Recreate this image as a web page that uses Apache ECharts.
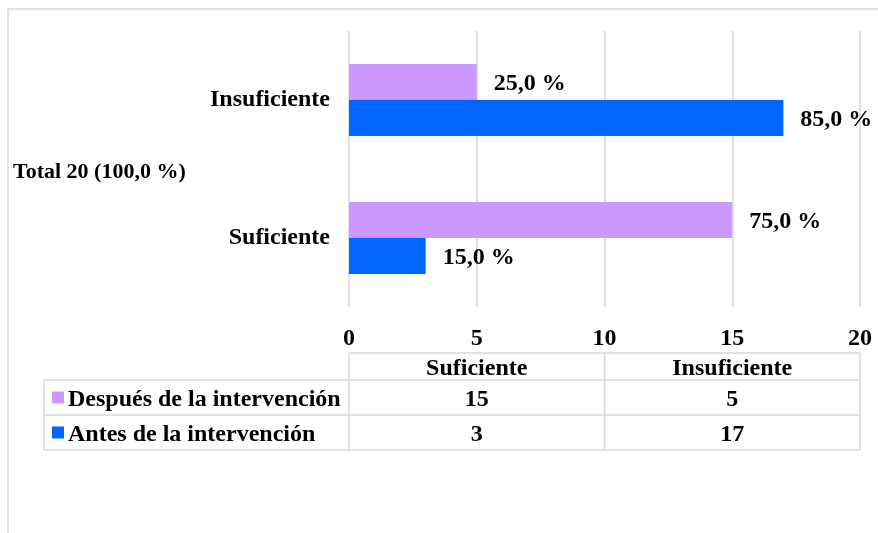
<!DOCTYPE html>
<html lang="es">
<head>
    <meta charset="UTF-8">
    <title>Intervención</title>
    <style>
        html, body { margin: 0; padding: 0; background: #fff; }
        #chart { width: 878px; height: 533px; }
    </style>
</head>
<body>
<div id="chart"></div>
<script src="https://cdn.jsdelivr.net/npm/echarts@6/dist/echarts.min.js"></script>
<script>
    // datos
    var categories = ['Suficiente', 'Insuficiente']
    var antes = [3, 17]
    var despues = [15, 5]
    var seriesNames = ['Después de la intervención', 'Antes de la intervención']
    var xTicks = [0, 5, 10, 15, 20]
    var total = 20
    var totalLabel = 'Total 20 (100,0 %)'

    var colors = { despues: '#CC99FF', antes: '#0066FF' }
    var font = 'Liberation Serif, Times New Roman, serif'
    var gridColor = '#d9d9d9'

    function pct(v) {
        return (v / total * 100).toFixed(1).replace('.', ',') + ' %'
    }

    var labelStyle = {
        show: true,
        position: 'right',
        distance: 17,
        offset: [0, 2],
        fontFamily: font,
        fontWeight: 'bold',
        fontSize: 24,
        color: '#000',
        formatter: function (p) { return pct(p.value) }
    }

    var chart = echarts.init(document.getElementById('chart'))
    chart.setOption({
        animation: false,
        grid: { left: 349, right: 18, top: 31, bottom: 226 },
        xAxis: {
            type: 'value',
            min: xTicks[0],
            max: xTicks[xTicks.length - 1],
            interval: xTicks[1] - xTicks[0],
            axisLine: { show: false },
            axisTick: { show: false },
            splitLine: { lineStyle: { color: gridColor, width: 1.5 } },
            axisLabel: { margin: 20, fontFamily: font, fontWeight: 'bold', fontSize: 24, color: '#000' }
        },
        yAxis: {
            type: 'category',
            data: categories,
            axisLine: { show: false },
            axisTick: { show: false },
            axisLabel: { margin: 19, padding: [5, 0, 0, 0], fontFamily: font, fontWeight: 'bold', fontSize: 24, color: '#000' }
        },
        series: [
            {
                name: seriesNames[0],
                type: 'bar',
                data: despues,
                barWidth: 36,
                barGap: '0%',
                itemStyle: { color: colors.despues },
                label: labelStyle
            },
            {
                name: seriesNames[1],
                type: 'bar',
                data: antes,
                barWidth: 36,
                barGap: '0%',
                itemStyle: { color: colors.antes },
                label: labelStyle
            }
        ]
    })

    // tabla de datos debajo del eje
    function drawTable() {
        var x0 = chart.convertToPixel({ xAxisIndex: 0 }, 0)
        var x1 = chart.convertToPixel({ xAxisIndex: 0 }, 10)
        var x2 = chart.convertToPixel({ xAxisIndex: 0 }, 20)
        var left = 44
        var rows = [353, 380, 415, 450]
        var lineStyle = { stroke: gridColor, lineWidth: 1.5 }
        var els = []

        // borde exterior del gráfico
        els.push({ type: 'rect', shape: { x: 8, y: 9, width: 1000, height: 1000 }, style: { fill: null, stroke: gridColor, lineWidth: 1.5 }, silent: true })

        // lineas horizontales
        els.push({ type: 'line', shape: { x1: x0, y1: rows[0], x2: x2, y2: rows[0] }, style: lineStyle })
        for (var i = 1; i < rows.length; i++) {
            els.push({ type: 'line', shape: { x1: left, y1: rows[i], x2: x2, y2: rows[i] }, style: lineStyle })
        }
        // lineas verticales
        els.push({ type: 'line', shape: { x1: left, y1: rows[1], x2: left, y2: rows[3] }, style: lineStyle })
        ;[x0, x1, x2].forEach(function (x) {
            els.push({ type: 'line', shape: { x1: x, y1: rows[0], x2: x, y2: rows[3] }, style: lineStyle })
        })

        var txt = { fontFamily: font, fontWeight: 'bold', fontSize: 24, fill: '#000', verticalAlign: 'middle' }
        var cols = [(x0 + x1) / 2, (x1 + x2) / 2]
        categories.forEach(function (c, j) {
            els.push({ type: 'text', x: cols[j], y: (rows[0] + rows[1]) / 2 + 2, style: Object.assign({ text: c, align: 'center' }, txt) })
        })
        var rowData = [despues, antes]
        var rowColors = [colors.despues, colors.antes]
        rowData.forEach(function (vals, r) {
            var cy = (rows[r + 1] + rows[r + 2]) / 2
            els.push({ type: 'rect', shape: { x: 52, y: cy - 6, width: 12, height: 12 }, style: { fill: rowColors[r] } })
            els.push({ type: 'text', x: 68, y: cy + 2, style: Object.assign({ text: seriesNames[r], align: 'left' }, txt) })
            vals.forEach(function (v, j) {
                els.push({ type: 'text', x: cols[j], y: cy + 2, style: Object.assign({ text: String(v), align: 'center' }, txt) })
            })
        })

        // titulo del eje
        els.push({ type: 'text', x: 13, y: 172, style: Object.assign({ text: totalLabel, align: 'left' }, txt, { fontSize: 22 }) })

        chart.setOption({ graphic: { elements: els } })
    }
    drawTable()
</script>
</body>
</html>
